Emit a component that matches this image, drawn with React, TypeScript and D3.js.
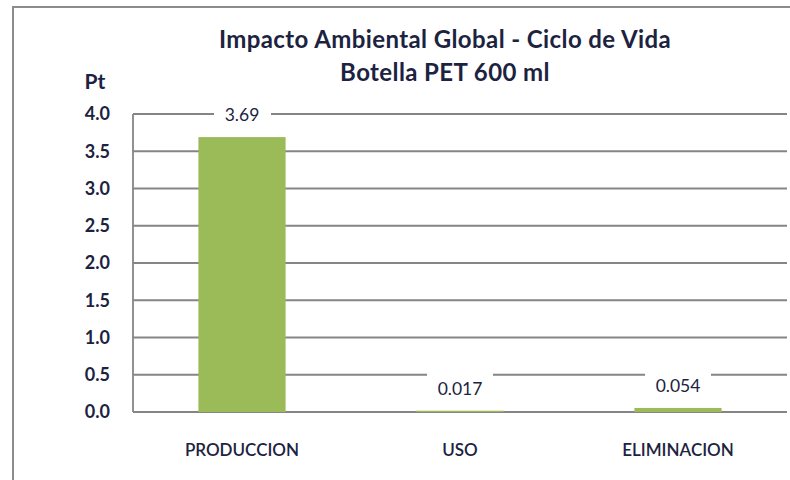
import React, { useEffect, useRef } from "react";
import * as d3 from "d3";

const categories = ["PRODUCCION", "USO", "ELIMINACION"];
const values = [3.69, 0.017, 0.054];
const valueLabels = ["3.69", "0.017", "0.054"];
const yTicks = [0, 0.5, 1.0, 1.5, 2.0, 2.5, 3.0, 3.5, 4.0];
const titleLines = ["Impacto Ambiental Global - Ciclo de Vida", "Botella PET 600 ml"];

const W = 790;
const H = 480;
const FONT = "Lato, 'Open Sans', sans-serif";
const TEXT = "#1c2340";

export default function App() {
  const ref = useRef<SVGSVGElement>(null);

  useEffect(() => {
    const svg = d3.select(ref.current);
    svg.selectAll("*").remove();

    const margin = { top: 114, right: 3, bottom: 68, left: 133 };

    // outer frame, runs off the right and bottom of the picture
    svg.append("rect")
      .attr("x", 13).attr("y", 7)
      .attr("width", 800).attr("height", 500)
      .attr("fill", "#fff")
      .attr("stroke", "#8c8c8c")
      .attr("stroke-width", 2);

    const x = d3.scaleBand()
      .domain(categories)
      .range([margin.left, W - margin.right])
      .paddingInner(0.6)
      .paddingOuter(0.3);

    const y = d3.scaleLinear()
      .domain([0, 4])
      .range([H - margin.bottom, margin.top]);

    const g = svg.append("g");

    // gridlines
    g.selectAll("line.grid")
      .data(yTicks)
      .join("line")
      .attr("class", "grid")
      .attr("x1", margin.left)
      .attr("x2", W - margin.right)
      .attr("y1", d => y(d))
      .attr("y2", d => y(d))
      .attr("stroke", "#858585")
      .attr("stroke-width", 1.8);

    // y axis line
    g.append("line")
      .attr("x1", margin.left).attr("x2", margin.left)
      .attr("y1", y(4)).attr("y2", y(0))
      .attr("stroke", "#858585")
      .attr("stroke-width", 1.8);

    // tick labels
    g.selectAll("text.tick")
      .data(yTicks)
      .join("text")
      .attr("class", "tick")
      .attr("x", 110)
      .attr("y", d => y(d))
      .attr("dy", "0.35em")
      .attr("text-anchor", "end")
      .attr("font-family", FONT)
      .attr("font-size", 18)
      .attr("font-weight", 700)
      .attr("fill", TEXT)
      .text(d => d3.format(".1f")(d));

    // bars
    g.selectAll("rect.bar")
      .data(values)
      .join("rect")
      .attr("class", "bar")
      .attr("x", (d, i) => x(categories[i])!)
      .attr("width", x.bandwidth())
      .attr("y", d => y(d))
      .attr("height", d => y(0) - y(d))
      .attr("fill", "#9bbb59");

    // data labels with white boxes that break the gridlines
    const lab = g.selectAll("g.lab")
      .data(values)
      .join("g")
      .attr("class", "lab")
      .attr("transform", (d, i) =>
        `translate(${x(categories[i])! + x.bandwidth() / 2},${y(d) - 22})`);

    lab.append("rect")
      .attr("x", (d, i) => (i === 0 ? -28 : -33))
      .attr("width", (d, i) => (i === 0 ? 57 : 66))
      .attr("y", -17)
      .attr("height", 29)
      .attr("fill", "#fff");

    lab.append("text")
      .attr("text-anchor", "middle")
      .attr("dy", "0.35em")
      .attr("font-family", FONT)
      .attr("font-size", 17.5)
      .attr("fill", TEXT)
      .text((d, i) => valueLabels[i]);

    // category labels
    g.selectAll("text.cat")
      .data(categories)
      .join("text")
      .attr("class", "cat")
      .attr("x", d => x(d)! + x.bandwidth() / 2)
      .attr("y", 450)
      .attr("dy", "0.35em")
      .attr("text-anchor", "middle")
      .attr("font-family", FONT)
      .attr("font-size", 17)
      .attr("font-weight", 600)
      .attr("fill", TEXT)
      .text(d => d);

    // title
    svg.selectAll("text.title")
      .data(titleLines)
      .join("text")
      .attr("class", "title")
      .attr("x", 445)
      .attr("y", (d, i) => 40 + i * 33)
      .attr("dy", "0.35em")
      .attr("text-anchor", "middle")
      .attr("font-family", FONT)
      .attr("font-size", 24)
      .attr("font-weight", 700)
      .attr("letter-spacing", 0.4)
      .attr("fill", TEXT)
      .text(d => d);

    svg.append("text")
      .attr("x", 95)
      .attr("y", 82)
      .attr("dy", "0.35em")
      .attr("text-anchor", "middle")
      .attr("font-family", FONT)
      .attr("font-size", 21)
      .attr("font-weight", 700)
      .attr("fill", TEXT)
      .text("Pt");
  }, []);

  return (
    <svg
      ref={ref}
      width={W}
      height={H}
      style={{ position: "absolute", left: 0, top: 0, display: "block" }}
    />
  );
}
